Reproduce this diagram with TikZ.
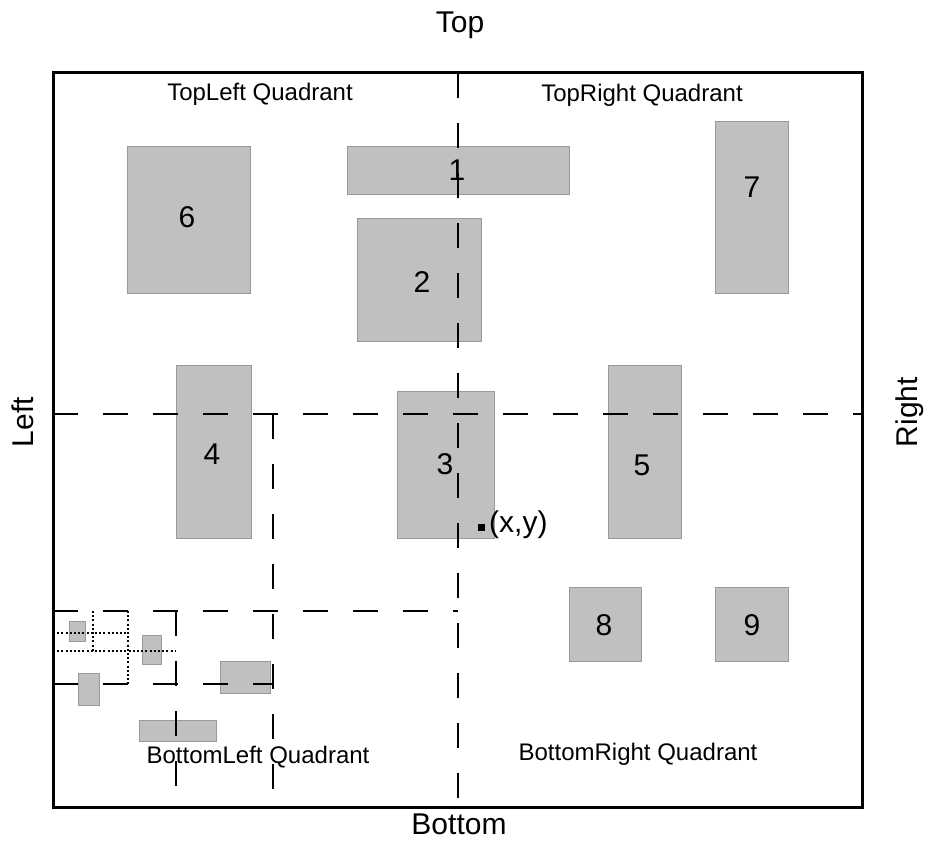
\documentclass[tikz,border=0pt]{standalone}
\usepackage{fontspec}
\setmainfont{Liberation Sans}
\definecolor{boxfill}{HTML}{C0C0C0}
\definecolor{boxline}{HTML}{9A9A9A}
\begin{document}
\begin{tikzpicture}[x=1pt,y=-1pt,
  box/.style={draw=boxline, fill=boxfill, line width=0.8pt, inner sep=0pt, anchor=north west},
  split/.style={line width=2.2pt, dash pattern=on 25pt off 25pt},
  finesplit/.style={line width=2pt, dash pattern=on 2pt off 2.2pt},
  frame/.style={line width=3pt},
  num/.style={font=\fontsize{30}{34}\selectfont, inner sep=0pt},
  side/.style={font=\fontsize{30}{34}\selectfont, inner sep=0pt, anchor=base},
  quad/.style={font=\fontsize{24}{28}\selectfont, inner sep=0pt, anchor=base}]
\useasboundingbox (0,0) rectangle (928,840);
% frame
\coordinate (f1) at (53,73);
\coordinate (f2) at (862,807);
\draw[frame] (f1) rectangle (f2);
% rectangles
\node[box, minimum width=222pt, minimum height=48pt] (b1) at (347,146) {};
\node[box, minimum width=124pt, minimum height=123pt] (b2) at (357,218) {};
\node[box, minimum width=97pt, minimum height=147pt] (b3) at (397,391) {};
\node[box, minimum width=75pt, minimum height=173pt] (b4) at (176,365) {};
\node[box, minimum width=73pt, minimum height=173pt] (b5) at (608,365) {};
\node[box, minimum width=123pt, minimum height=147pt] (b6) at (127,146) {};
\node[box, minimum width=73pt, minimum height=172pt] (b7) at (715,121) {};
\node[box, minimum width=72pt, minimum height=74pt] (b8) at (569,587) {};
\node[box, minimum width=73pt, minimum height=74pt] (b9) at (715,587) {};
\node[box, minimum width=16pt, minimum height=20pt] (sa) at (69,621) {};
\node[box, minimum width=19pt, minimum height=29pt] (sb) at (142,635) {};
\node[box, minimum width=21pt, minimum height=32pt] (sc) at (78,673) {};
\node[box, minimum width=50pt, minimum height=32pt] (sd) at (220,661) {};
\node[box, minimum width=77pt, minimum height=21pt] (se) at (139,720) {};
% split coordinates
\coordinate (v1t) at (458,73);   \coordinate (v1b) at (458,807);
\coordinate (h1l) at (53,414);   \coordinate (h1r) at (862,414);
\coordinate (v2t) at (273,414);  \coordinate (v2b) at (273,807);
\coordinate (h2l) at (53,611);   \coordinate (h2r) at (458,611);
\coordinate (v3t) at (176,611);  \coordinate (v3b) at (176,807);
\coordinate (h3l) at (53,684);   \coordinate (h3r) at (273,684);
\coordinate (d1t) at (128,611);  \coordinate (d1b) at (128,684);
\coordinate (d2l) at (53,651);   \coordinate (d2r) at (176,651);
\coordinate (d3l) at (53,633);   \coordinate (d3r) at (128,633);
\coordinate (d4t) at (93,611);   \coordinate (d4b) at (93,651);
\draw[split] (v1t) -- (v1b);
\draw[split] (h1l) -- (h1r);
\draw[split] (v2t) -- (v2b);
\draw[split] (h2l) -- (h2r);
\draw[split] (v3t) -- (v3b);
\draw[split] (h3l) -- (h3r);
\draw[finesplit] (d1t) -- (d1b);
\draw[finesplit] (d2l) -- (d2r);
\draw[finesplit] (d3l) -- (d3r);
\draw[finesplit] (d4t) -- (d4b);
% numbers
\node[num] (n1) at (457,170) {1};
\node[num] (n2) at (422,282) {2};
\node[num] (n3) at (445,464) {3};
\node[num] (n4) at (212,454) {4};
\node[num] (n5) at (642,465) {5};
\node[num] (n6) at (187,217) {6};
\node[num] (n7) at (752,187) {7};
\node[num] (n8) at (604,625) {8};
\node[num] (n9) at (752,625) {9};
% point
\node[fill=black, minimum size=7pt, inner sep=0pt] (pt) at (481.5,527.5) {};
\node[font=\fontsize{30}{34}\selectfont, inner sep=0pt, anchor=base west] (xy) at (489,532) {(x,y)};
% side labels
\node[side] (top) at (460,33) {Top};
\node[side] (bottom) at (459,834) {Bottom};
\node[side, rotate=90] (left) at (33,422) {Left};
\node[side, rotate=90] (right) at (917,412) {Right};
% quadrant labels
\node[quad] (tl) at (260,101) {TopLeft Quadrant};
\node[quad] (tr) at (642,102) {TopRight Quadrant};
\node[quad] (bl) at (258,763) {BottomLeft Quadrant};
\node[quad] (br) at (638,760) {BottomRight Quadrant};
\end{tikzpicture}
\end{document}
